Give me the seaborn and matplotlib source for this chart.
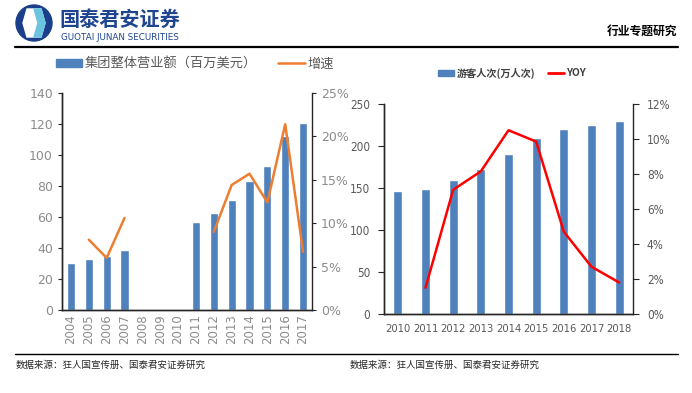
import numpy as np
import pandas as pd
import matplotlib
matplotlib.use("Agg")
import matplotlib.pyplot as plt
import seaborn as sns
from matplotlib.patches import Ellipse, Polygon
from matplotlib.lines import Line2D

# 左图：集团整体营业额 / 增速
years_l = ["2004", "2005", "2006", "2007", "2008", "2009", "2010",
           "2011", "2012", "2013", "2014", "2015", "2016", "2017"]
revenue = [30.5, 33, 35, 39, 0, 0, 0, 57, 62.5, 71, 83, 93, 112.5, 120.5]
growth = [np.nan, 8.1, 6.0, 10.6, np.nan, np.nan, np.nan,
          np.nan, 9.0, 14.4, 15.7, 12.4, 21.4, 6.7]

# 右图：游客人次 / YOY
years_r = ["2010", "2011", "2012", "2013", "2014", "2015", "2016", "2017", "2018"]
visitors = [146, 149, 159, 173, 191, 210, 220, 225, 230]
yoy = [np.nan, 1.5, 7.1, 8.15, 10.5, 9.85, 4.7, 2.7, 1.8]

BAR = "#4F81BD"
W, H = 692, 393

sns.set_style("white")
plt.rcParams["font.family"] = ["Noto Sans CJK SC", "DejaVu Sans"]
plt.rcParams["axes.linewidth"] = 1.0

fig = plt.figure(figsize=(W / 100, H / 100), dpi=100)


def box(l, t, r, b):
    return [l / W, 1 - b / H, (r - l) / W, (b - t) / H]


def fx(x):
    return x / W


def fy(y):
    return 1 - y / H


# ---- 页眉 ----
logo = fig.add_axes(box(14, 4, 54, 42))
logo.set_xlim(0, 40)
logo.set_ylim(0, 38)
logo.axis("off")
logo.add_patch(Ellipse((20, 19), 36, 36, color="#1c3f8c"))
logo.add_patch(Polygon([[13, 33], [27, 33], [31, 19], [27, 5], [13, 5], [9, 19]], color="white"))
logo.add_patch(Polygon([[20, 33], [27, 33], [31, 19], [27, 5], [20, 5], [24, 19]], color="#6cc4e0"))

fig.text(fx(59), fy(19), "国泰君安证券", fontsize=14.5, fontweight="bold", color="#1f4591", va="center")
fig.text(fx(61), fy(37), "GUOTAI JUNAN SECURITIES", fontsize=6.3, color="#1f4591", va="center",
         family=["DejaVu Sans"])
fig.text(fx(677), fy(31), "行业专题研究", fontsize=8.5, fontweight="bold", color="black",
         ha="right", va="center")
fig.add_artist(Line2D([fx(15), fx(678)], [fy(46.5), fy(46.5)], color="black", lw=1.6))

# ---- 页脚 ----
fig.add_artist(Line2D([fx(15), fx(678)], [fy(354), fy(354)], color="black", lw=1.0))
fig.text(fx(16), fy(365), "数据来源：狂人国宣传册、国泰君安证券研究", fontsize=6.8, va="center")
fig.text(fx(350), fy(365), "数据来源：狂人国宣传册、国泰君安证券研究", fontsize=6.8, va="center")

# ---- 左图 ----
df_l = pd.DataFrame({"year": years_l, "revenue": revenue})
ax1 = fig.add_axes(box(62, 93, 312, 310))
sns.barplot(data=df_l, x="year", y="revenue", color=BAR, width=0.45, saturation=1, ax=ax1)
ax1.set_xlim(-0.5, len(years_l) - 0.5)
ax1.set_ylim(0, 140)
ax1.set_yticks(range(0, 141, 20))
ax1.set_xlabel("")
ax1.set_ylabel("")
ax1.set_xticks(range(len(years_l)))
ax1.set_xticklabels(years_l, rotation=90)
ax1.set_xticks(np.arange(-0.5, len(years_l)), minor=True)
ax1.tick_params(axis="x", which="major", length=0, labelsize=8.5, labelcolor="#8c8c8c", pad=3)
ax1.tick_params(axis="x", which="minor", length=4, direction="out", color="black")
ax1.tick_params(axis="y", length=3, direction="out", labelsize=9, labelcolor="#8c8c8c", left=True)
for lab in ax1.get_xticklabels() + ax1.get_yticklabels():
    lab.set_family(["DejaVu Sans"])
ax1.spines["top"].set_visible(False)
ax1.spines["right"].set_visible(False)

ax1b = ax1.twinx()
ax1b.plot(range(len(years_l)), growth, color="#ED7D31", lw=1.8)
ax1b.set_ylim(0, 25)
ax1b.set_yticks(range(0, 26, 5))
ax1b.set_yticklabels([f"{v}%" for v in range(0, 26, 5)])
ax1b.tick_params(axis="y", length=3, direction="out", labelsize=9, labelcolor="#8c8c8c", right=True)
for lab in ax1b.get_yticklabels():
    lab.set_family(["DejaVu Sans"])
ax1b.spines["top"].set_visible(False)

h1 = [plt.Rectangle((0, 0), 1, 1, color=BAR), Line2D([], [], color="#ED7D31", lw=1.8)]
fig.legend(h1, ["集团整体营业额（百万美元）", "增速"], loc="center", bbox_to_anchor=(fx(195), fy(64)),
           ncol=2, frameon=False, fontsize=9.5, labelcolor="#595959", handlelength=2.0,
           handleheight=0.5, columnspacing=1.6, handletextpad=0.2)

# ---- 右图 ----
df_r = pd.DataFrame({"year": years_r, "visitors": visitors})
ax2 = fig.add_axes(box(384, 104, 633, 314))
sns.barplot(data=df_r, x="year", y="visitors", color=BAR, width=0.33, saturation=1, ax=ax2)
ax2.set_xlim(-0.5, len(years_r) - 0.5)
ax2.set_ylim(0, 250)
ax2.set_yticks(range(0, 251, 50))
ax2.set_xlabel("")
ax2.set_ylabel("")
ax2.set_xticks(np.arange(-0.5, len(years_r)), minor=True)
ax2.tick_params(axis="x", which="major", length=0, labelsize=8, labelcolor="#595959", pad=7)
ax2.tick_params(axis="x", which="minor", length=4, direction="out", color="black")
ax2.tick_params(axis="y", length=4, direction="out", labelsize=8.5, labelcolor="#595959", left=True, pad=6)
for lab in ax2.get_xticklabels() + ax2.get_yticklabels():
    lab.set_family(["DejaVu Sans"])
    lab.set_stretch("condensed")
ax2.spines["top"].set_visible(False)
ax2.spines["right"].set_visible(False)

ax2b = ax2.twinx()
ax2b.plot(range(len(years_r)), yoy, color="#FF0000", lw=1.8)
ax2b.set_ylim(0, 12)
ax2b.set_yticks(range(0, 13, 2))
ax2b.set_yticklabels([f"{v}%" for v in range(0, 13, 2)])
ax2b.tick_params(axis="y", length=4, direction="out", labelsize=8.5, labelcolor="#595959", right=True, pad=6)
for lab in ax2b.get_yticklabels():
    lab.set_family(["DejaVu Sans"])
    lab.set_stretch("condensed")
ax2b.spines["top"].set_visible(False)

h2 = [plt.Rectangle((0, 0), 1, 1, color=BAR), Line2D([], [], color="#FF0000", lw=2)]
fig.legend(h2, ["游客人次(万人次)", "YOY"], loc="center", bbox_to_anchor=(fx(512), fy(73)),
           ncol=2, frameon=False, labelcolor="#404040", handlelength=1.6,
           handleheight=0.5, columnspacing=1.3, handletextpad=0.2,
           prop={"family": ["Noto Sans CJK SC", "DejaVu Sans"], "weight": "bold", "size": 7.3})

fig.savefig("out.png", dpi=100)
